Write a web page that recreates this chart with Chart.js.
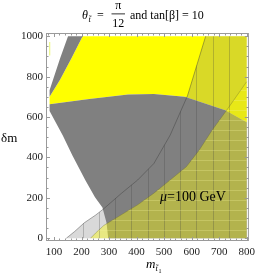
<!DOCTYPE html>
<html lang="en">
<head>
    <meta charset="UTF-8">
    <title>stop mass vs delta m</title>
    <style>
        body { margin: 0; background: #ffffff; }
        #plot { display: block; }
    </style>
</head>
<body>
    <canvas id="plot" width="260" height="277"></canvas>

    <script src="https://cdn.jsdelivr.net/npm/chart.js"></script>
    <script>
        // region edges, [m_stop (GeV), delta m (GeV)]
        const bandLeft = [[151, 1000], [122, 890], [98, 791], [84, 733]];
        const yellowLeft = [[84, 700], [122, 784], [163, 890], [204, 1000]];
        const domeTop = [[84, 663], [228, 689], [369, 712], [463, 714], [575, 700], [722, 633], [800, 574]];
        const domeLeft = [[297, 0], [291, 75], [276, 152], [249, 203], [214, 287], [167, 410], [132, 509], [84, 630]];
        const speck = [[84, 905], [86, 905], [86, 972], [84, 972]];
        const lightEdge = [[145, 0], [175, 33], [210, 76], [252, 115], [281, 146], [345, 222], [404, 288], [463, 370], [522, 510], [585, 705], [651, 1000]];
        const muEdge = [[233, 0], [251, 25], [281, 63], [334, 107], [404, 165], [463, 223], [522, 288], [581, 354], [628, 437], [675, 536], [728, 635], [800, 775]];

        // mesh lines of the two transparent regions
        const meshX = [145, 204, 263, 322, 381, 440, 499, 557, 616, 676, 736];
        const meshY = [41, 90, 140, 189, 238, 288, 337, 386, 436, 485, 534, 584, 633, 682, 732];

        // axis ticks
        const xTicks = [100, 200, 300, 400, 500, 600, 700, 800];
        const yTicks = [0, 200, 400, 600, 800, 1000];

        const serif = '"Liberation Serif", "DejaVu Serif", serif';

        const pts = arr => arr.map(([x, y]) => ({ x, y }));

        const yellowPoly = [...yellowLeft, [800, 1000], ...domeTop.slice().reverse()];
        const bandPoly = [...bandLeft, ...yellowLeft];
        const domePoly = [...domeTop, [800, 0], ...domeLeft];
        const lightPoly = [...lightEdge, [800, 1000], [800, 0]];
        const muPoly = [...muEdge, [800, 0]];

        function region(data, color, order) {
            return {
                data: pts(data), showLine: true, fill: 'shape', backgroundColor: color,
                borderWidth: 0, pointRadius: 0, tension: 0, order: order
            };
        }
        function edge(data, color, order) {
            return {
                data: pts(data), showLine: true, fill: false, borderColor: color,
                borderWidth: 0.8, pointRadius: 0, tension: 0, order: order
            };
        }

        const overlay = {
            id: 'overlay',
            afterDatasetsDraw(chart) {
                const { ctx, chartArea: a, scales: { x, y } } = chart;
                const path = arr => {
                    ctx.beginPath();
                    arr.forEach(([vx, vy], i) => {
                        const px = x.getPixelForValue(vx), py = y.getPixelForValue(vy);
                        if (i) ctx.lineTo(px, py); else ctx.moveTo(px, py);
                    });
                    ctx.closePath();
                };
                // vertical mesh inside the grey overlay
                ctx.save();
                path(lightPoly); ctx.clip();
                ctx.strokeStyle = 'rgba(60,60,60,0.33)';
                ctx.lineWidth = 0.8;
                meshX.forEach(v => {
                    const px = Math.round(x.getPixelForValue(v)) + 0.5;
                    ctx.beginPath(); ctx.moveTo(px, a.top); ctx.lineTo(px, a.bottom); ctx.stroke();
                });
                ctx.restore();
                // horizontal mesh inside the mu region
                ctx.save();
                path(muPoly); ctx.clip();
                ctx.strokeStyle = 'rgba(245,245,160,0.35)';
                ctx.lineWidth = 0.8;
                meshY.forEach(v => {
                    const py = Math.round(y.getPixelForValue(v)) + 0.5;
                    ctx.beginPath(); ctx.moveTo(a.left, py); ctx.lineTo(a.right, py); ctx.stroke();
                });
                ctx.restore();
            },
            afterDraw(chart) {
                const { ctx, chartArea: a, scales: { x, y } } = chart;
                ctx.save();
                // frame and inward ticks
                ctx.strokeStyle = '#9a9a9a';
                ctx.lineWidth = 1;
                ctx.strokeRect(a.left + 0.5, a.top + 0.5, a.right - a.left - 1, a.bottom - a.top - 1);
                ctx.beginPath();
                for (let v = 80; v <= 800; v += 20) {
                    const px = Math.round(x.getPixelForValue(v)) + 0.5;
                    const len = v % 100 === 0 ? 4 : 2.5;
                    ctx.moveTo(px, a.bottom); ctx.lineTo(px, a.bottom - len);
                    ctx.moveTo(px, a.top); ctx.lineTo(px, a.top + len);
                }
                for (let v = 0; v <= 1000; v += 50) {
                    const py = Math.round(y.getPixelForValue(v)) + 0.5;
                    const len = v % 200 === 0 ? 4 : 2.5;
                    ctx.moveTo(a.left, py); ctx.lineTo(a.left + len, py);
                    ctx.moveTo(a.right, py); ctx.lineTo(a.right - len, py);
                }
                ctx.stroke();

                // title
                ctx.fillStyle = '#000';
                ctx.textBaseline = 'alphabetic';
                ctx.textAlign = 'left';
                ctx.font = 'italic 12px ' + serif;
                ctx.fillText('\u03b8', 82, 19);
                ctx.font = 'italic 8px ' + serif;
                ctx.fillText('t\u0303', 88.5, 22);
                ctx.font = '12px ' + serif;
                ctx.fillText('=', 97, 19);
                ctx.textAlign = 'center';
                ctx.fillText('\u03c0', 118.3, 9);
                ctx.fillText('12', 118.3, 27);
                ctx.fillRect(111.5, 13.5, 13.5, 0.8);
                ctx.textAlign = 'left';
                ctx.fillText('and tan[\u03b2] = 10', 130, 19);

                // axis labels
                ctx.font = '13px ' + serif;
                ctx.fillText('\u03b4m', 1, 142);
                ctx.font = 'italic 13px ' + serif;
                ctx.fillText('m', 146, 268);
                ctx.font = 'italic 8px ' + serif;
                ctx.fillText('t\u0303', 155.5, 271);
                ctx.font = '6px ' + serif;
                ctx.fillText('1', 158.5, 273);

                // region label
                ctx.font = 'italic 14px ' + serif;
                ctx.fillText('\u03bc', 160, 201);
                const w = ctx.measureText('\u03bc').width;
                ctx.font = '14px ' + serif;
                ctx.fillText('=100 GeV', 160 + w, 201);
                ctx.restore();
            }
        };

        const ctx = document.getElementById('plot').getContext('2d');
        new Chart(ctx, {
            type: 'scatter',
            data: {
                datasets: [
                    region(yellowPoly, '#ffff00', 10),
                    region(bandPoly, '#808080', 9),
                    region(speck, '#d6f000', 8),
                    region(domePoly, '#808080', 7),
                    region(lightPoly, 'rgba(128,128,128,0.3)', 6),
                    region(muPoly, 'rgba(255,255,0,0.4)', 5),
                    edge(lightEdge, 'rgba(60,60,60,0.55)', 4),
                    edge(muEdge, 'rgba(110,110,40,0.45)', 3)
                ]
            },
            options: {
                responsive: false,
                animation: false,
                devicePixelRatio: 1,
                layout: { padding: { top: 33, right: 6, left: 0, bottom: 0 } },
                plugins: { legend: { display: false }, tooltip: { enabled: false } },
                scales: {
                    x: {
                        type: 'linear', min: 71, max: 808,
                        afterBuildTicks: s => { s.ticks = xTicks.map(v => ({ value: v })); },
                        afterFit: s => { s.height = 36; },
                        grid: { display: false, drawTicks: false },
                        border: { display: false },
                        ticks: { padding: 5, color: '#222', maxRotation: 0, autoSkip: false, callback: v => String(v), font: { family: serif, size: 11 } }
                    },
                    y: {
                        type: 'linear', min: -14, max: 1016,
                        afterBuildTicks: s => { s.ticks = yTicks.map(v => ({ value: v })); },
                        afterFit: s => { s.width = 46; },
                        grid: { display: false, drawTicks: false },
                        border: { display: false },
                        ticks: { padding: 3, color: '#222', autoSkip: false, callback: v => String(v), font: { family: serif, size: 11 } }
                    }
                }
            },
            plugins: [overlay]
        });
    </script>
</body>
</html>
